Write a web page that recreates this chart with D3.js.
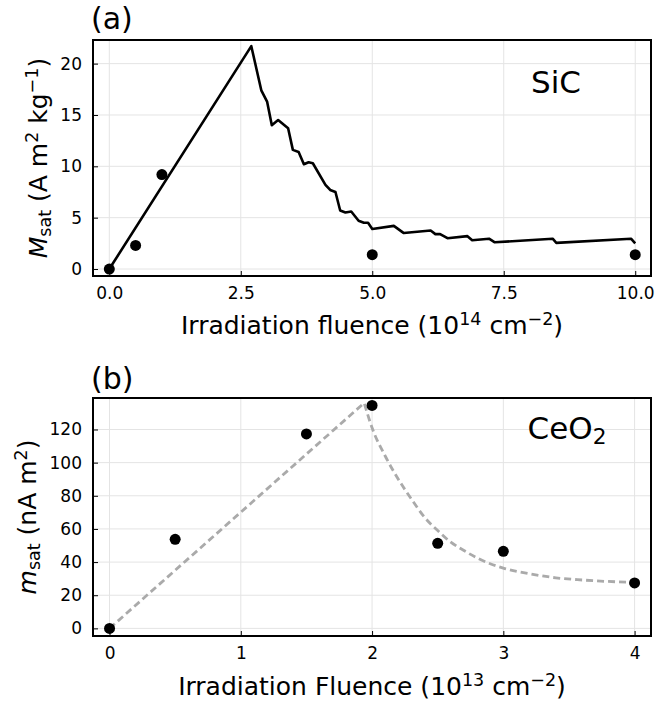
<!DOCTYPE html>
<html lang="en">
<head>
<meta charset="utf-8">
<title>Msat vs fluence</title>
<script src="https://d3js.org/d3.v7.min.js"></script>
<style>
  body { margin: 0; background: #fff; }
  text { font-family: "DejaVu Sans", sans-serif; fill: #000; }
</style>
</head>
<body>
<script>
// panel (a) SiC
var sicFluence = [0, 0.5, 1, 5, 10];
var sicMsat = [0, 2.3, 9.2, 1.4, 1.4];
var sicLineX = [0, 2.70, 2.89, 3.0, 3.09, 3.21, 3.40, 3.49, 3.60, 3.70, 3.79, 3.87, 4.11, 4.20, 4.30, 4.39, 4.49, 4.60, 4.74, 4.84, 4.92, 5.0, 5.41, 5.60, 6.11, 6.20, 6.29, 6.43, 6.81, 6.90, 7.22, 7.33, 8.43, 8.50, 9.92, 10.0];
var sicLineY = [0, 21.7, 17.4, 16.3, 14.0, 14.5, 13.7, 11.6, 11.4, 10.2, 10.4, 10.3, 8.2, 7.7, 7.5, 5.7, 5.5, 5.6, 4.7, 4.5, 4.5, 3.9, 4.2, 3.5, 3.75, 3.4, 3.4, 3.0, 3.2, 2.8, 2.95, 2.6, 2.95, 2.55, 2.95, 2.5];
var sicXTicks = [0, 2.5, 5, 7.5, 10];
var sicYTicks = [0, 5, 10, 15, 20];

// panel (b) CeO2
var ceoFluence = [0, 0.5, 1.5, 2, 2.5, 3, 4];
var ceoMsat = [0, 53.7, 117.3, 134.5, 51.3, 46.5, 27.4];
// guide line: straight rise, then smooth decay
var ceoRiseX = [0, 1.94];
var ceoRiseY = [0, 136];
var ceoFallX = [1.94, 2.0, 2.1, 2.2, 2.3, 2.4, 2.5, 2.6, 2.7, 2.8, 2.9, 3.0, 3.2, 3.4, 3.6, 3.8, 4.0];
var ceoFallY = [136, 121, 104, 90, 78, 67, 59, 52, 47, 42.5, 39, 36.4, 33, 30.5, 29.2, 28.3, 27.8];
var ceoXTicks = [0, 1, 2, 3, 4];
var ceoYTicks = [0, 20, 40, 60, 80, 100, 120];

var W = 655, H = 702;
var svg = d3.select("body").append("svg").attr("width", W).attr("height", H);

function panel(opt) {
  var x = d3.scaleLinear().domain(opt.xdom).range([93, 651]);
  var y = d3.scaleLinear().domain(opt.ydom).range([opt.bottom, opt.top]);
  var g = svg.append("g");

  // grid
  g.selectAll(".gx").data(opt.xticks).enter().append("line")
    .attr("x1", function (d) { return x(d); }).attr("x2", function (d) { return x(d); })
    .attr("y1", opt.top).attr("y2", opt.bottom)
    .attr("stroke", "#e4e4e4").attr("stroke-width", 1);
  g.selectAll(".gy").data(opt.yticks).enter().append("line")
    .attr("y1", function (d) { return y(d); }).attr("y2", function (d) { return y(d); })
    .attr("x1", 93).attr("x2", 651)
    .attr("stroke", "#e4e4e4").attr("stroke-width", 1);

  // axes with inward ticks
  var xa = g.append("g").attr("transform", "translate(0," + opt.bottom + ")")
    .call(d3.axisBottom(x).tickValues(opt.xticks).tickSizeInner(-5).tickSizeOuter(0).tickPadding(11).tickFormat(opt.xfmt));
  var ya = g.append("g").attr("transform", "translate(93,0)")
    .call(d3.axisLeft(y).tickValues(opt.yticks).tickSizeInner(-5).tickSizeOuter(0).tickPadding(11).tickFormat(d3.format("d")));
  [xa, ya].forEach(function (a) {
    a.select(".domain").remove();
    a.selectAll("text").attr("font-size", 17).attr("font-family", "DejaVu Sans");
    a.selectAll("line").attr("stroke", "#000");
  });

  opt.draw(g, x, y);

  // frame
  g.append("rect").attr("x", 93).attr("y", opt.top)
    .attr("width", 651 - 93).attr("height", opt.bottom - opt.top)
    .attr("fill", "none").attr("stroke", "#000").attr("stroke-width", 2);

  // dots
  g.selectAll(".dot").data(opt.px).enter().append("circle")
    .attr("cx", function (d) { return x(d); })
    .attr("cy", function (d, i) { return y(opt.py[i]); })
    .attr("r", 5.5).attr("fill", "#000");
  return g;
}

function pairs(xs, ys) {
  return xs.map(function (d, i) { return [d, ys[i]]; });
}

// (a)
panel({
  xdom: [-0.31, 10.3], ydom: [-0.68, 22.3], top: 40, bottom: 276,
  xticks: sicXTicks, yticks: sicYTicks, xfmt: d3.format(".1f"),
  px: sicFluence, py: sicMsat,
  draw: function (g, x, y) {
    g.append("path").datum(pairs(sicLineX, sicLineY))
      .attr("d", d3.line().x(function (d) { return x(d[0]); }).y(function (d) { return y(d[1]); }))
      .attr("fill", "none").attr("stroke", "#000").attr("stroke-width", 2.6).attr("stroke-linejoin", "round");
  }
});

// (b)
panel({
  xdom: [-0.126, 4.125], ydom: [-4.6, 139], top: 398, bottom: 636,
  xticks: ceoXTicks, yticks: ceoYTicks, xfmt: d3.format("d"),
  px: ceoFluence, py: ceoMsat,
  draw: function (g, x, y) {
    var line = d3.line().x(function (d) { return x(d[0]); }).y(function (d) { return y(d[1]); });
    // straight rise then monotone decay, joined into one dashed path
    var rise = line(pairs(ceoRiseX, ceoRiseY));
    var fall = line.curve(d3.curveMonotoneX)(pairs(ceoFallX, ceoFallY)).replace(/^M[^A-Za-z]*/, "L" + x(ceoFallX[0]) + "," + y(ceoFallY[0]));
    g.append("path").attr("d", rise + fall)
      .attr("fill", "none").attr("stroke", "#aaaaaa").attr("stroke-width", 2.8).attr("stroke-dasharray", "7,4");
  }
});

// labels
function label(x, y, size, parts, rot) {
  var t = svg.append("text").attr("x", x).attr("y", y).attr("font-size", size).attr("text-anchor", "middle");
  if (rot) t.attr("transform", "rotate(-90," + x + "," + y + ")");
  parts.forEach(function (p) {
    var s = t.append("tspan").text(p.t);
    if (p.sup) s.attr("baseline-shift", "48%").attr("font-size", size * 0.7);
    if (p.sub) s.attr("baseline-shift", "-22%").attr("font-size", size * 0.7);
    if (p.it) s.attr("font-style", "italic");
  });
  return t;
}

svg.append("text").attr("x", 91).attr("y", 29).attr("font-size", 30).text("(a)");
svg.append("text").attr("x", 91).attr("y", 389).attr("font-size", 30).text("(b)");

label(556, 93, 31, [{ t: "SiC" }]);
label(567, 439, 31, [{ t: "CeO" }, { t: "2", sub: true }]);

label(372, 334, 25, [{ t: "Irradiation fluence (10" }, { t: "14", sup: true }, { t: " cm" }, { t: "\u22122", sup: true }, { t: ")" }]);
label(372, 695, 25, [{ t: "Irradiation Fluence (10" }, { t: "13", sup: true }, { t: " cm" }, { t: "\u22122", sup: true }, { t: ")" }]);

label(47, 158, 25, [{ t: "M", it: true }, { t: "sat", sub: true }, { t: " (A m" }, { t: "2", sup: true }, { t: " kg" }, { t: "\u22121", sup: true }, { t: ")" }], true);
label(36, 517, 25, [{ t: "m", it: true }, { t: "sat", sub: true }, { t: " (nA m" }, { t: "2", sup: true }, { t: ")" }], true);
</script>
</body>
</html>
